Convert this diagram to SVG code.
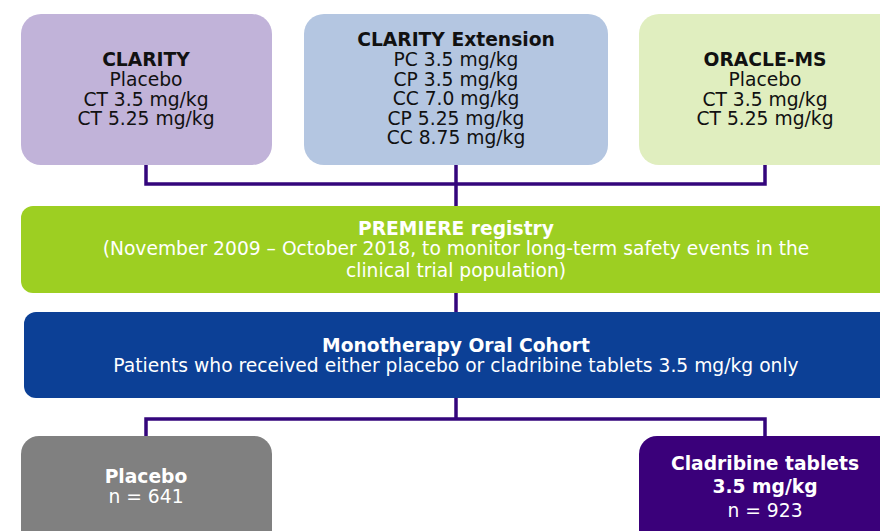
<svg xmlns="http://www.w3.org/2000/svg" width="880" height="531" viewBox="0 0 880 531">
<style>
text{font-family:"DejaVu Sans","Verdana",sans-serif;font-size:18.7px;text-anchor:middle}
.b{font-weight:bold}
.dk{fill:#111}
.wh{fill:#fff}
.conn{fill:none;stroke:#34067c;stroke-width:3.5}
</style>
<rect width="880" height="531" fill="#fff"/>
<g id="connectors">
<path class="conn" d="M146 165V184H765V165"/>
<path class="conn" d="M456 165V206"/>
<path class="conn" d="M456 293V312"/>
<path class="conn" d="M456 398V419"/>
<path class="conn" d="M146 436V419H765V436"/>
</g>
<g id="clarity">
<rect x="21" y="14" width="251" height="151" rx="20" fill="#c1b3d9"/>
<text class="dk b" x="146" y="66">CLARITY</text>
<text class="dk" x="146" y="86">Placebo</text>
<text class="dk" x="146" y="105.5">CT 3.5 mg/kg</text>
<text class="dk" x="146" y="125">CT 5.25 mg/kg</text>
</g>
<g id="clarity-ext">
<rect x="304" y="14" width="304" height="151" rx="20" fill="#b4c6e1"/>
<text class="dk b" x="456" y="46">CLARITY Extension</text>
<text class="dk" x="456" y="66">PC 3.5 mg/kg</text>
<text class="dk" x="456" y="85.5">CP 3.5 mg/kg</text>
<text class="dk" x="456" y="105">CC 7.0 mg/kg</text>
<text class="dk" x="456" y="124.5">CP 5.25 mg/kg</text>
<text class="dk" x="456" y="144">CC 8.75 mg/kg</text>
</g>
<g id="oracle">
<rect x="639" y="14" width="261" height="151" rx="20" fill="#e0eebf"/>
<text class="dk b" x="765" y="66">ORACLE-MS</text>
<text class="dk" x="765" y="86">Placebo</text>
<text class="dk" x="765" y="105.5">CT 3.5 mg/kg</text>
<text class="dk" x="765" y="125">CT 5.25 mg/kg</text>
</g>
<g id="premiere">
<rect x="21" y="206" width="880" height="87" rx="12" fill="#9dcf22"/>
<text class="wh b" x="456" y="235">PREMIERE registry</text>
<text class="wh" x="456" y="255">(November 2009 – October 2018, to monitor long-term safety events in the</text>
<text class="wh" x="456" y="277">clinical trial population)</text>
</g>
<g id="cohort">
<rect x="24" y="312" width="880" height="86" rx="12" fill="#0c4096"/>
<text class="wh b" x="456" y="352">Monotherapy Oral Cohort</text>
<text class="wh" x="456" y="372">Patients who received either placebo or cladribine tablets 3.5 mg/kg only</text>
</g>
<g id="placebo">
<rect x="21" y="436" width="251" height="120" rx="18" fill="#808080"/>
<text class="wh b" x="146" y="483">Placebo</text>
<text class="wh" x="146" y="503">n = 641</text>
</g>
<g id="cladribine">
<rect x="639" y="436" width="261" height="120" rx="18" fill="#3a007a"/>
<text class="wh b" x="765" y="470">Cladribine tablets</text>
<text class="wh b" x="765" y="493">3.5 mg/kg</text>
<text class="wh" x="765" y="517">n = 923</text>
</g>
</svg>
